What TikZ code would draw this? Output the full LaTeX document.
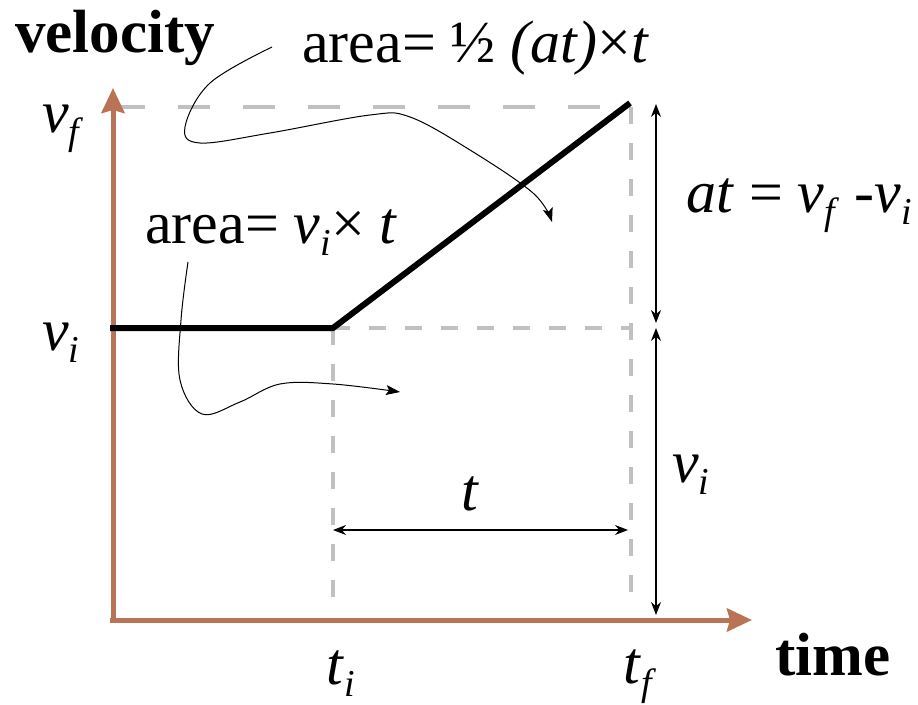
\documentclass[tikz,border=0pt]{standalone}
\usepackage{fontspec}
\setmainfont{Liberation Serif}[ItalicFont={Liberation Serif Italic},BoldFont={Liberation Serif Bold}]
\usetikzlibrary{arrows.meta}
\definecolor{axisbrown}{RGB}{184,116,84}
\definecolor{dashgray}{RGB}{192,192,192}
\newcommand\bigtxt{\fontsize{61}{70}\selectfont}
\newcommand\regtxt{\fontsize{60}{68}\selectfont}
\newcommand\subtxt{\fontsize{38}{44}\selectfont}
\newcommand\vsb[2]{\textit{#1}\raisebox{-0.2em}{\subtxt\textit{#2}}}
\tikzset{
  axis/.style={draw=axisbrown, line width=5pt, -{Stealth[length=25pt,width=23pt,inset=3pt]}},
  graphline/.style={draw=black, line width=6pt},
  longdash/.style={draw=dashgray, line width=4pt, dash pattern=on 32pt off 33pt},
  shortdash/.style={draw=dashgray, line width=4pt, dash pattern=on 17pt off 19pt},
  dimarrow/.style={draw=black, line width=1.2pt, {Stealth[length=13pt,width=10pt]}-{Stealth[length=13pt,width=10pt]}},
  curvearrow/.style={draw=black, line width=1pt, -{Stealth[length=14pt,width=10pt,inset=3pt]}},
  lbl/.style={inner sep=0pt, anchor=base west}
}
\begin{document}
\begin{tikzpicture}[x=1pt,y=-1pt]
\useasboundingbox (0,0) rectangle (918,704);
% key points
\coordinate (O) at (113,620);
\coordinate (ytip) at (113,88);
\coordinate (xtip) at (752,620);
\coordinate (vistart) at (110,328);
\coordinate (knee) at (333,328);
\coordinate (top) at (630,103);
\coordinate (vfl) at (113,107);
\coordinate (vfr) at (631,107);
\coordinate (vir) at (631,328);
\coordinate (tib) at (333,605);
\coordinate (tfb) at (631,600);
\coordinate (a1) at (656,104);
\coordinate (a2) at (656,323);
\coordinate (a3) at (656,328);
\coordinate (a4) at (656,615);
\coordinate (t1) at (333,530);
\coordinate (t2) at (628,530);
% dashed guides
\draw[longdash] (vfl) -- (vfr);
\draw[shortdash] (vfr) -- (tfb);
\draw[shortdash] (knee) -- (vir);
\draw[shortdash] (knee) -- (tib);
% axes
\draw[axis] (O) -- (ytip);
\draw[axis] (110,620) -- (xtip);
% graph
\draw[graphline] (vistart) -- (knee) -- (top);
% dimension arrows
\draw[dimarrow] (a1) -- (a2);
\draw[dimarrow] (a3) -- (a4);
\draw[dimarrow] (t1) -- (t2);
% curvy arrows
\draw[curvearrow] plot[smooth, tension=0.6] coordinates {(272,47) (210,83) (185,127) (200,143) (270,133) (370,115) (410,117) (470,150) (533,193) (552,222)};
\draw[curvearrow] plot[smooth, tension=0.6] coordinates {(188,262) (181,320) (180,380) (202,414) (240,402) (280,384) (333,384) (400,392)};
% labels
\node[lbl] (velocity) at (15,52) {\bigtxt\textbf{velocity}};
\node[lbl] (time) at (775,675) {\bigtxt\textbf{time}};
\node[lbl] (area1) at (302,62) {\regtxt area= ½ \textit{(at)}×\textit{t}};
\node[lbl] (area2) at (145,243) {\regtxt area= \vsb{v}{i}× \textit{t}};
\node[lbl] (atlbl) at (686,212) {\regtxt\textit{at} = \vsb{v}{f} -\vsb{v}{i}};
\node[lbl] (vf) at (42,132) {\regtxt\vsb{v}{f}};
\node[lbl] (vi) at (42,350) {\regtxt\vsb{v}{i}};
\node[lbl] (vir2) at (672,482) {\regtxt\vsb{v}{i}};
\node[lbl] (tlbl) at (461,510) {\regtxt\textit{t}};
\node[lbl] (ti) at (326,684) {\regtxt\vsb{t}{i}};
\node[lbl] (tf) at (623,683) {\regtxt\vsb{t}{f}};
\end{tikzpicture}
\end{document}
